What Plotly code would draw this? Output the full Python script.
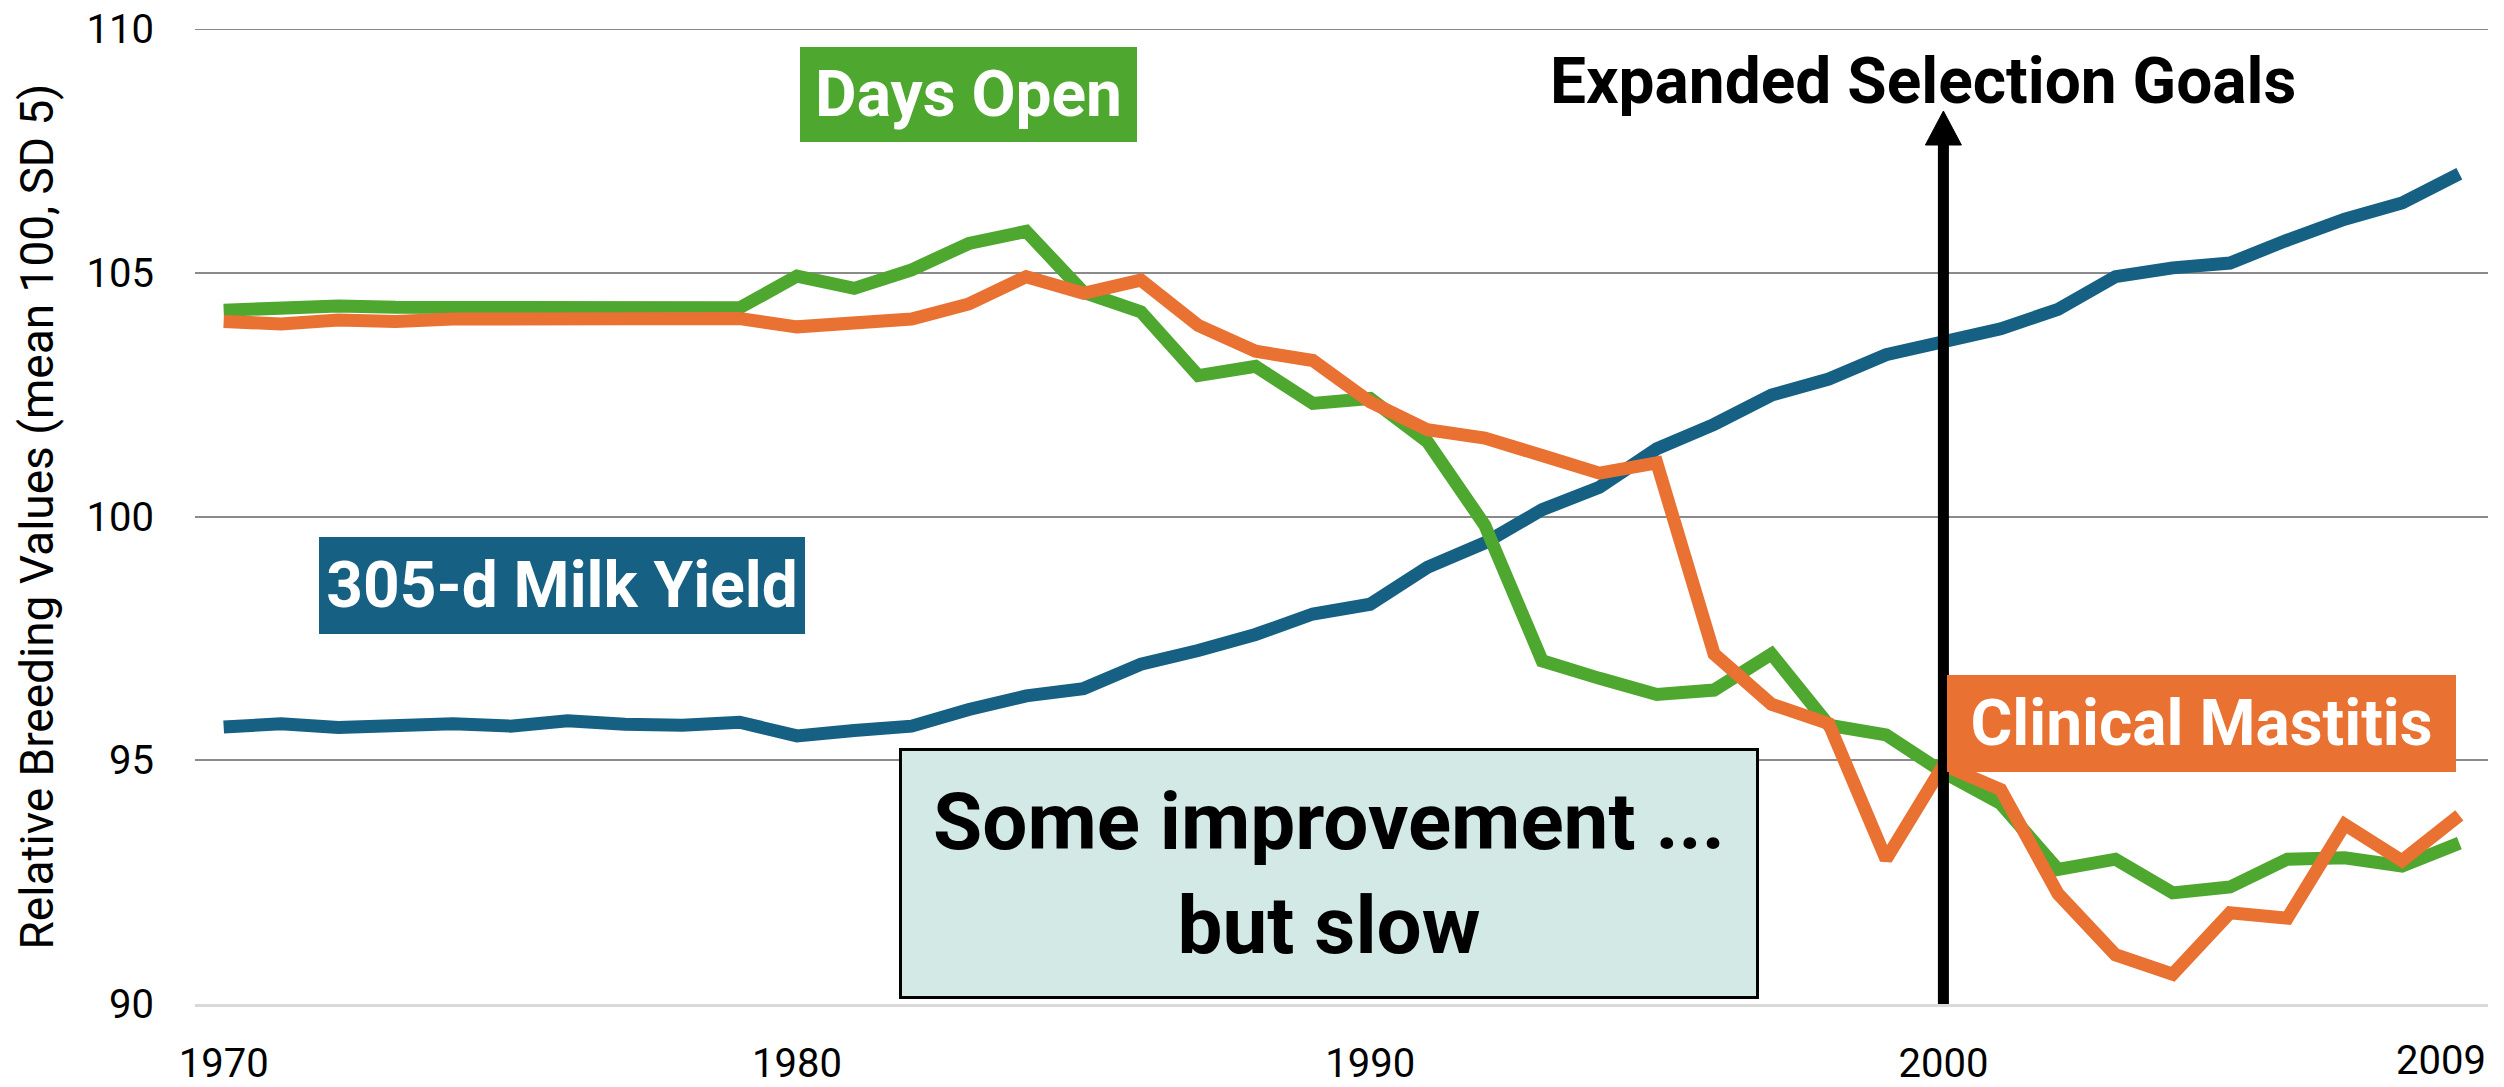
import plotly.graph_objects as go

# ---------------- data ----------------
years = list(range(1970, 2010))

milk_yield = [95.68, 95.75, 95.67, 95.71, 95.75, 95.70, 95.81, 95.74, 95.72, 95.78,
              95.50, 95.61, 95.70, 96.04, 96.32, 96.47, 96.97, 97.25, 97.58, 98.00,
              98.20, 98.96, 99.46, 100.14, 100.60, 101.39, 101.89, 102.49, 102.82, 103.32,
              103.60, 103.85, 104.25, 104.92, 105.10, 105.20, 105.67, 106.10, 106.43, 107.03]

days_open = [104.23, 104.29, 104.32, 104.29, 104.28, 104.30, 104.29, 104.29, 104.28, 104.28,
             104.93, 104.68, 105.06, 105.60, 105.85, 104.60, 104.20, 102.89, 103.08, 102.32,
             102.42, 101.53, 99.82, 97.04, 96.68, 96.35, 96.44, 97.18, 95.72, 95.52,
             94.75, 94.11, 92.76, 92.97, 92.28, 92.40, 92.97, 93.00, 92.83, 93.30]

clinical_mastitis = [104.00, 103.95, 104.03, 104.00, 104.05, 104.05, 104.00, 104.03, 104.06, 104.06,
                     103.89, 104.00, 104.05, 104.36, 104.92, 104.58, 104.85, 103.92, 103.39, 103.20,
                     102.35, 101.78, 101.61, 101.25, 100.89, 101.10, 97.18, 96.15, 95.75, 92.97,
                     94.90, 94.40, 92.26, 91.01, 90.61, 91.87, 91.76, 93.68, 92.94, 93.87]

x_tick_vals = [1970, 1980, 1990, 2000]
x_tick_text = ["1970", "1980", "1990", "2000"]
last_year_label = "2009"
y_tick_vals = [90, 95, 100, 105, 110]

selection_year = 2000

# ---------------- style ----------------
BLUE = "#166083"
GREEN = "#4EA72E"
ORANGE = "#E97132"
FONT = "Roboto"

W, H = 2504, 1087
ML, MR, MT, MB = 195, 16, 29, 83
X0, X1 = 1969.5, 2009.5
Y0, Y1 = 90, 110
PW = W - ML - MR
PH = H - MT - MB


def px2x(px):
    return X0 + (px - ML) / PW * (X1 - X0)


def py2y(py):
    return Y1 - (py - MT) / PH * (Y1 - Y0)


def py2paper(py):
    return (H - MB - py) / PH


fig = go.Figure()
for name, vals, col in [("305-d Milk Yield", milk_yield, BLUE),
                        ("Days Open", days_open, GREEN),
                        ("Clinical Mastitis", clinical_mastitis, ORANGE)]:
    fig.add_trace(go.Scatter(x=years, y=vals, mode="lines", name=name,
                             line=dict(color=col, width=13), showlegend=False))

# top gridline (plotly omits gridline at range edge)
fig.add_shape(type="line", xref="paper", yref="y", x0=0, x1=1, y0=Y1, y1=Y1,
              line=dict(color="#8A8A8A", width=2), layer="below")


def label_box(text, left, top, right, bottom, bg, color="white", size=64,
              border=0, bordercolor=None):
    fig.add_annotation(
        x=px2x(left), y=py2y(top), xref="x", yref="y",
        xanchor="left", yanchor="top",
        text=f"<b>{text}</b>", showarrow=False,
        font=dict(family=FONT, size=size, color=color),
        bgcolor=bg, borderpad=0, borderwidth=border,
        bordercolor=bordercolor if bordercolor else bg,
        width=(right - left) - 2 * border, height=(bottom - top) - 2 * border,
        align="center", valign="middle",
    )


label_box("Days Open", 800, 47, 1137, 142, GREEN)
label_box("305-d Milk Yield", 319, 537, 805, 634, BLUE)
label_box("Clinical Mastitis", 1947, 675, 2456, 772, ORANGE)
label_box("Some improvement ...<br>but slow", 899, 748, 1759, 999, "#D3E9E6",
          color="black", size=80, border=3, bordercolor="black")

# Expanded selection goals text
fig.add_annotation(x=px2x(1923), y=py2y(81), xref="x", yref="y",
                   text="<b>Expanded Selection Goals</b>", showarrow=False,
                   xanchor="center", yanchor="middle",
                   font=dict(family=FONT, size=64, color="black"))

# Arrow at 2000
tip_y = py2y(111)
head_base = py2y(145)
fig.add_shape(type="line", xref="x", yref="y",
              x0=selection_year, x1=selection_year, y0=py2y(1009), y1=head_base + 0.05,
              line=dict(color="black", width=11), layer="above")
half = 18 / PW * (X1 - X0)
fig.add_shape(type="path", xref="x", yref="y",
              path=f"M {selection_year - half},{head_base} L {selection_year + half},{head_base} "
                   f"L {selection_year},{tip_y} Z",
              fillcolor="black", line=dict(color="black", width=1), layer="above")

# Y axis title
fig.add_annotation(x=(36 - ML) / PW, y=0.5, xref="paper", yref="paper",
                   text="Relative Breeding Values (mean 100, SD 5)", textangle=-90,
                   showarrow=False, xanchor="center", yanchor="middle",
                   font=dict(family=FONT, size=46, color="black"))

# last year label (right-aligned at plot edge, slightly lower than other ticks)
fig.add_annotation(x=1, y=py2paper(1086), xref="paper", yref="paper",
                   text=last_year_label, showarrow=False,
                   xanchor="right", yanchor="bottom",
                   font=dict(family=FONT, size=40, color="black"))

fig.update_layout(
    width=W, height=H, autosize=False,
    margin=dict(l=ML, r=MR, t=MT, b=MB, autoexpand=False),
    paper_bgcolor="white", plot_bgcolor="white",
    font=dict(family=FONT, color="black"),
    xaxis=dict(range=[X0, X1], tickvals=x_tick_vals, ticktext=x_tick_text,
               showgrid=False, zeroline=False, showline=True, linecolor="#D9D9D9",
               linewidth=3, ticks="", tickfont=dict(size=40, family=FONT, color="black"),
               ticklabelstandoff=22, automargin=False),
    yaxis=dict(range=[Y0, Y1], tickvals=y_tick_vals, showgrid=True, gridcolor="#8A8A8A",
               gridwidth=2, zeroline=False, showline=False, ticks="",
               tickfont=dict(size=40, family=FONT, color="black"),
               ticklabelstandoff=40, automargin=False),
)

fig.write_html("out.html", config={"displayModeBar": False},
               post_script="document.body.style.margin='0';document.body.style.overflow='hidden';")
